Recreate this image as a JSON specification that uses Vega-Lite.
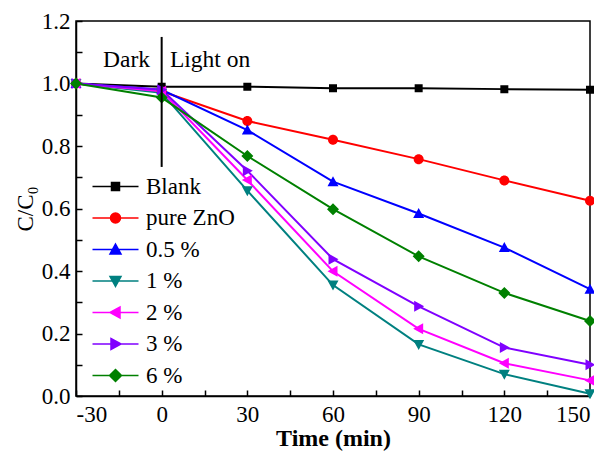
{
  "$schema": "https://vega.github.io/schema/vega-lite/v6.json",
  "width": 514,
  "height": 375,
  "autosize": "none",
  "padding": {"left": 76, "top": 21, "right": 4, "bottom": 61},
  "background": "white",
  "config": {
    "view": {"stroke": "black", "strokeWidth": 1.5},
    "font": "Liberation Serif",
    "text": {"font": "Liberation Serif"},
    "axis": {
      "domainColor": "black", "domainWidth": 1.5, "tickColor": "black", "tickWidth": 1.5,
      "tickSize": -6, "grid": false, "labelFont": "Liberation Serif", "labelFontSize": 23,
      "labelColor": "black", "titleFont": "Liberation Serif", "titleColor": "black"
    },
    "legend": {"labelFont": "Liberation Serif"}
  },
  "data": {"values": [
    {"t": -30, "c": 1.0, "s": "Blank"}, {"t": 0, "c": 0.99, "s": "Blank"}, {"t": 30, "c": 0.99, "s": "Blank"}, {"t": 60, "c": 0.985, "s": "Blank"}, {"t": 90, "c": 0.985, "s": "Blank"}, {"t": 120, "c": 0.982, "s": "Blank"}, {"t": 150, "c": 0.98, "s": "Blank"},
    {"t": -30, "c": 1.0, "s": "pure ZnO"}, {"t": 0, "c": 0.975, "s": "pure ZnO"}, {"t": 30, "c": 0.88, "s": "pure ZnO"}, {"t": 60, "c": 0.82, "s": "pure ZnO"}, {"t": 90, "c": 0.758, "s": "pure ZnO"}, {"t": 120, "c": 0.69, "s": "pure ZnO"}, {"t": 150, "c": 0.625, "s": "pure ZnO"},
    {"t": -30, "c": 1.0, "s": "0.5 %"}, {"t": 0, "c": 0.98, "s": "0.5 %"}, {"t": 30, "c": 0.851, "s": "0.5 %"}, {"t": 60, "c": 0.686, "s": "0.5 %"}, {"t": 90, "c": 0.584, "s": "0.5 %"}, {"t": 120, "c": 0.475, "s": "0.5 %"}, {"t": 150, "c": 0.342, "s": "0.5 %"},
    {"t": -30, "c": 1.0, "s": "1 %"}, {"t": 0, "c": 0.97, "s": "1 %"}, {"t": 30, "c": 0.657, "s": "1 %"}, {"t": 60, "c": 0.355, "s": "1 %"}, {"t": 90, "c": 0.165, "s": "1 %"}, {"t": 120, "c": 0.07, "s": "1 %"}, {"t": 150, "c": 0.007, "s": "1 %"},
    {"t": -30, "c": 1.0, "s": "2 %"}, {"t": 0, "c": 0.975, "s": "2 %"}, {"t": 30, "c": 0.691, "s": "2 %"}, {"t": 60, "c": 0.399, "s": "2 %"}, {"t": 90, "c": 0.215, "s": "2 %"}, {"t": 120, "c": 0.105, "s": "2 %"}, {"t": 150, "c": 0.05, "s": "2 %"},
    {"t": -30, "c": 1.0, "s": "3 %"}, {"t": 0, "c": 0.98, "s": "3 %"}, {"t": 30, "c": 0.721, "s": "3 %"}, {"t": 60, "c": 0.438, "s": "3 %"}, {"t": 90, "c": 0.287, "s": "3 %"}, {"t": 120, "c": 0.155, "s": "3 %"}, {"t": 150, "c": 0.1, "s": "3 %"},
    {"t": -30, "c": 1.0, "s": "6 %"}, {"t": 0, "c": 0.955, "s": "6 %"}, {"t": 30, "c": 0.768, "s": "6 %"}, {"t": 60, "c": 0.598, "s": "6 %"}, {"t": 90, "c": 0.447, "s": "6 %"}, {"t": 120, "c": 0.33, "s": "6 %"}, {"t": 150, "c": 0.24, "s": "6 %"}
  ]},
  "encoding": {
    "x": {"field": "t", "type": "quantitative", "scale": {"domain": [-30, 150], "nice": false, "zero": false},
      "axis": {"values": [-30, -15, 0, 15, 30, 45, 60, 75, 90, 105, 120, 135, 150], "labelExpr": "datum.value % 30 === 0 ? '' + datum.value : ''", "labelPadding": 13, "title": "Time (min)", "titleFontSize": 24, "titleFontWeight": "bold", "titlePadding": 0}},
    "y": {"field": "c", "type": "quantitative", "scale": {"domain": [0, 1.2], "nice": false},
      "axis": {"values": [0, 0.1, 0.2, 0.3, 0.4, 0.5, 0.6, 0.7, 0.8, 0.9, 1.0, 1.1, 1.2], "labelExpr": "round(datum.value * 10) % 2 === 0 ? format(datum.value, '.1f') : ''", "labelPadding": 12, "title": "C/C₀", "titleFontSize": 23, "titleFontWeight": "normal", "titlePadding": 4}}
  },
  "layer": [
    {
      "mark": {"type": "line", "strokeWidth": 2},
      "encoding": {
        "color": {"field": "s", "type": "nominal", "sort": null,
          "scale": {"domain": ["Blank", "pure ZnO", "0.5 %", "1 %", "2 %", "3 %", "6 %"], "range": ["#000000", "#ff0000", "#0000ff", "#008080", "#ff00ff", "#8000ff", "#008000"]}}
      }
    },
    {
      "mark": {"type": "point", "filled": true, "size": 100, "strokeWidth": 0, "opacity": 1},
      "encoding": {
        "color": {"field": "s", "type": "nominal", "sort": null},
        "shape": {"field": "s", "type": "nominal", "sort": null,
          "scale": {"domain": ["Blank", "pure ZnO", "0.5 %", "1 %", "2 %", "3 %", "6 %"],
            "range": [
              "M-4.6,0H4.6M-0.8,-0.8H0.8V0.8H-0.8Z",
              "M-4.6,0H4.6M1,0A1,1,0,1,1,-1,0A1,1,0,1,1,1,0Z",
              "M-4.6,0H4.6M0,-1.1L1.1,0.9H-1.1Z",
              "M-4.6,0H4.6M0,1.1L1.1,-0.9H-1.1Z",
              "M-4.6,0H4.6M-1.1,0L0.9,-1.1V1.1Z",
              "M-4.6,0H4.6M1.1,0L-0.9,-1.1V1.1Z",
              "M-4.6,0H4.6M0,-1.2L1.2,0L0,1.2L-1.2,0Z"
            ]},
          "legend": {"orient": "none", "legendX": 28, "legendY": 154, "title": null, "symbolSize": 100, "labelFont": "Liberation Serif", "labelFontSize": 23, "labelColor": "black", "labelOffset": 19, "rowPadding": 7.5,
            "encode": {"symbols": {"update": {"fill": {"scale": "color", "field": "value"}, "stroke": {"scale": "color", "field": "value"}, "strokeWidth": {"value": 2}, "opacity": {"value": 1}}}}}}
      }
    },
    {
      "data": {"values": [{"t": 0, "c": 1.149, "c2": 0.733}]},
      "mark": {"type": "rule", "color": "black", "strokeWidth": 2},
      "encoding": {"y2": {"field": "c2"}}
    },
    {
      "data": {"values": [{"t": -12.3, "c": 1.053, "label": "Dark"}]},
      "mark": {"type": "text", "align": "center", "baseline": "alphabetic", "fontSize": 23.5, "color": "black", "font": "Liberation Serif"},
      "encoding": {"text": {"field": "label"}}
    },
    {
      "data": {"values": [{"t": 2.9, "c": 1.053, "label": "Light on"}]},
      "mark": {"type": "text", "align": "left", "baseline": "alphabetic", "fontSize": 23.5, "color": "black", "font": "Liberation Serif"},
      "encoding": {"text": {"field": "label"}}
    }
  ]
}
